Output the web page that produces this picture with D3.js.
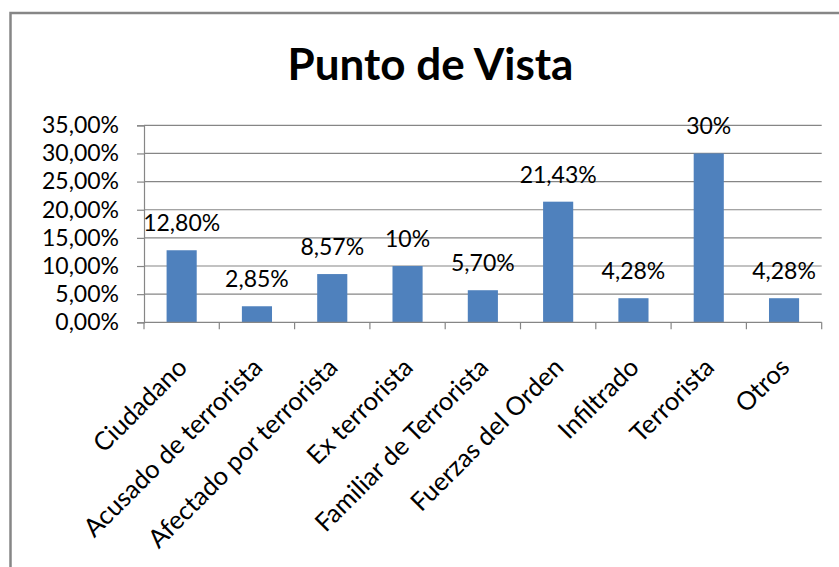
<!DOCTYPE html>
<html>
<head>
<meta charset="utf-8">
<script src="https://cdn.jsdelivr.net/npm/d3@7"></script>
<style>
  body { margin: 0; background: #fff; }
  text { font-family: Lato, "Open Sans", sans-serif; fill: #000; }
</style>
</head>
<body>
<div id="chart"></div>
<script>
// data
var categories = ["Ciudadano", "Acusado de terrorista", "Afectado por terrorista", "Ex terrorista",
  "Familiar de Terrorista", "Fuerzas del Orden", "Infiltrado", "Terrorista", "Otros"];
var values = [0.128, 0.0285, 0.0857, 0.10, 0.057, 0.2143, 0.0428, 0.30, 0.0428];
var valueLabels = ["12,80%", "2,85%", "8,57%", "10%", "5,70%", "21,43%", "4,28%", "30%", "4,28%"];
var yTicks = [0, 0.05, 0.10, 0.15, 0.20, 0.25, 0.30, 0.35];

var svgWidth = 839;
var svgHeight = 567;
var plot = { left: 144, right: 821.7, top: 125.3, bottom: 322.3 };
var gray = "#868686";

var svg = d3.select("#chart")
  .append("svg")
  .attr("width", svgWidth)
  .attr("height", svgHeight);

// outer frame (only top and left visible)
svg.append("path")
  .attr("d", "M10.5,567 L10.5,13 L839,13")
  .attr("fill", "none")
  .attr("stroke", gray)
  .attr("stroke-width", 2.5);

svg.append("text")
  .attr("x", 430.5)
  .attr("y", 80)
  .attr("text-anchor", "middle")
  .style("font-size", "44px")
  .style("font-weight", "bold")
  .text("Punto de Vista");

var x = d3.scaleBand()
  .domain(categories)
  .range([plot.left, plot.right])
  .paddingInner(0.6)
  .paddingOuter(0.3);

var y = d3.scaleLinear()
  .domain([0, 0.35])
  .range([plot.bottom, plot.top]);

// gridlines
svg.append("g")
  .selectAll("line")
  .data(yTicks.slice(1))
  .enter()
  .append("line")
  .attr("x1", plot.left)
  .attr("x2", plot.right)
  .attr("y1", d => y(d))
  .attr("y2", d => y(d))
  .attr("stroke", gray)
  .attr("stroke-width", 1.2);

// y axis
var leftAxis = d3.axisLeft(y)
  .tickValues(yTicks)
  .tickSize(7)
  .tickPadding(18)
  .tickFormat(d => d3.format(".2f")(d * 100).replace(".", ",") + "%");

var yAxis = svg.append("g")
  .attr("transform", `translate(${plot.left}, 0)`)
  .call(leftAxis);
yAxis.select(".domain").attr("stroke", gray).attr("stroke-width", 1.2);
yAxis.selectAll(".tick line").attr("stroke", gray).attr("stroke-width", 1.2);
yAxis.selectAll("text")
  .style("font-size", "23px")
  .style("font-family", "Lato, sans-serif")
  .attr("fill", "#000");

// bars
svg.append("g")
  .selectAll("rect")
  .data(values)
  .enter()
  .append("rect")
  .attr("x", (d, i) => x(categories[i]))
  .attr("width", x.bandwidth())
  .attr("y", d => y(d))
  .attr("height", d => plot.bottom - y(d))
  .attr("fill", "#4f81bd");

// x axis line and category ticks
var step = x.step();
svg.append("line")
  .attr("x1", plot.left)
  .attr("x2", plot.right)
  .attr("y1", plot.bottom)
  .attr("y2", plot.bottom)
  .attr("stroke", gray)
  .attr("stroke-width", 1.2);

svg.append("g")
  .selectAll("line")
  .data(d3.range(categories.length + 1))
  .enter()
  .append("line")
  .attr("x1", i => plot.left + i * step)
  .attr("x2", i => plot.left + i * step)
  .attr("y1", plot.bottom)
  .attr("y2", plot.bottom + 7)
  .attr("stroke", gray)
  .attr("stroke-width", 1.2);

// value labels
svg.append("g")
  .selectAll("text")
  .data(values)
  .enter()
  .append("text")
  .attr("x", (d, i) => x(categories[i]) + x.bandwidth() / 2)
  .attr("y", d => y(d) - 19)
  .attr("text-anchor", "middle")
  .style("font-size", "23px")
  .text((d, i) => valueLabels[i]);

// category labels, rotated
svg.append("g")
  .selectAll("text")
  .data(categories)
  .enter()
  .append("text")
  .attr("transform", d => `translate(${x(d) + x.bandwidth() / 2 + 7}, 369) rotate(-45)`)
  .attr("text-anchor", "end")
  .style("font-size", "25.5px")
  .text(d => d);
</script>
</body>
</html>
